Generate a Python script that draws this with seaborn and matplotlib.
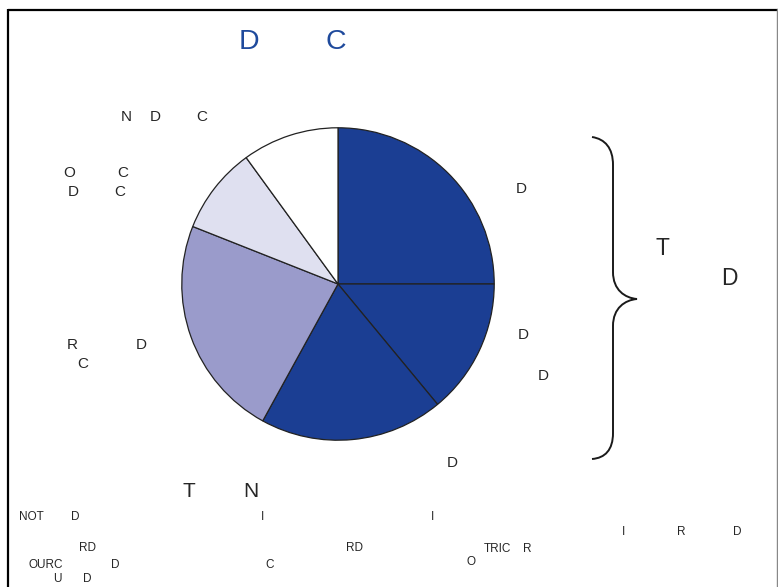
import matplotlib
matplotlib.use("Agg")
import matplotlib.pyplot as plt
from matplotlib.path import Path
from matplotlib.patches import PathPatch
import seaborn as sns

# Slice shares, clockwise from 12 o'clock
shares = [25, 14, 19, 23, 9, 10]
slice_colors = ["#1b3e93", "#1b3e93", "#1b3e93", "#9a9bcb", "#dfe0f0", "#ffffff"]

# Text fragments: (text, x_px, baseline_px, size_pt, color)
title_parts = [("D", 249, 49), ("C", 335.5, 49)]
slice_labels = [("D", 521.5, 193), ("D", 523.5, 339), ("D", 543.5, 380), ("D", 452.5, 467)]
side_labels = [("N", 126, 121), ("D", 155, 121), ("C", 201.5, 121),
               ("O", 69, 177), ("C", 122.5, 177), ("D", 73.5, 196), ("C", 119.5, 196),
               ("R", 72.5, 349), ("D", 141, 349), ("C", 82.5, 368)]
brace_labels = [("T", 662.5, 255), ("D", 729.5, 285)]
footer_heading = [("T", 189, 497), ("N", 250.5, 497)]
footer_notes = [("NOT", 31.5, 520), ("D", 75.5, 520), ("I", 263, 520), ("I", 433, 520),
                ("I", 624, 535), ("R", 681, 535), ("D", 737, 535),
                ("RD", 88, 551), ("RD", 355, 551), ("TRIC", 497.5, 552), ("R", 527, 552),
                ("OURC", 45.5, 568), ("D", 115, 568), ("C", 270, 568), ("O", 471, 565),
                ("U", 57, 582), ("D", 87.5, 582)]

sns.set_theme(style="white")
plt.rcParams["font.family"] = ["Liberation Sans", "DejaVu Sans"]

W, H = 778, 587
fig = plt.figure(figsize=(W / 100, H / 100), dpi=100)
fig.patch.set_facecolor("white")

# Overlay in pixel coordinates for frame, brace and text
ov = fig.add_axes([0, 0, 1, 1])
ov.set_xlim(0, W)
ov.set_ylim(H, 0)
ov.axis("off")
ov.patch.set_visible(False)

ov.plot([8, W], [9.5, 9.5], color="black", lw=1.6, solid_capstyle="butt")
ov.plot([8, 8], [9, H], color="black", lw=1.6, solid_capstyle="butt")
ov.plot([777, 777], [9, H], color="#888888", lw=1.0)

verts = [(592, 137), (605, 139), (613, 148), (613, 165),
         (613, 272),
         (613, 290), (625, 298), (637, 299),
         (625, 300), (613, 308), (613, 326),
         (613, 433),
         (613, 450), (605, 458), (592, 459)]
codes = [Path.MOVETO, Path.CURVE4, Path.CURVE4, Path.CURVE4,
         Path.LINETO,
         Path.CURVE4, Path.CURVE4, Path.CURVE4,
         Path.CURVE4, Path.CURVE4, Path.CURVE4,
         Path.LINETO,
         Path.CURVE4, Path.CURVE4, Path.CURVE4]
ov.add_patch(PathPatch(Path(verts, codes), fill=False, edgecolor="#1a1a1a", lw=1.4))


def put(items, size, color="#262626"):
    for s, x, y in items:
        ov.text(x, y, s, ha="center", va="baseline", fontsize=size, color=color)


put(title_parts, 20.5, "#1f4a9c")
put(slice_labels, 11)
put(side_labels, 11)
put(brace_labels, 16.5)
put(footer_heading, 15)
put(footer_notes, 8.5)

# Pie axes: centre (338, 284) px, radius 157 px
cx, cy, r = 338, 284, 157
pax = fig.add_axes([(cx - r) / W, (H - cy - r) / H, 2 * r / W, 2 * r / H])
pax.pie(shares, colors=slice_colors, startangle=90, counterclock=False,
        radius=1.0, wedgeprops=dict(edgecolor="#222222", linewidth=0.9))
pax.set_xlim(-1.005, 1.005)
pax.set_ylim(-1.005, 1.005)
pax.set_aspect("equal")
pax.axis("off")

fig.savefig("out.png", dpi=100, facecolor="white")
